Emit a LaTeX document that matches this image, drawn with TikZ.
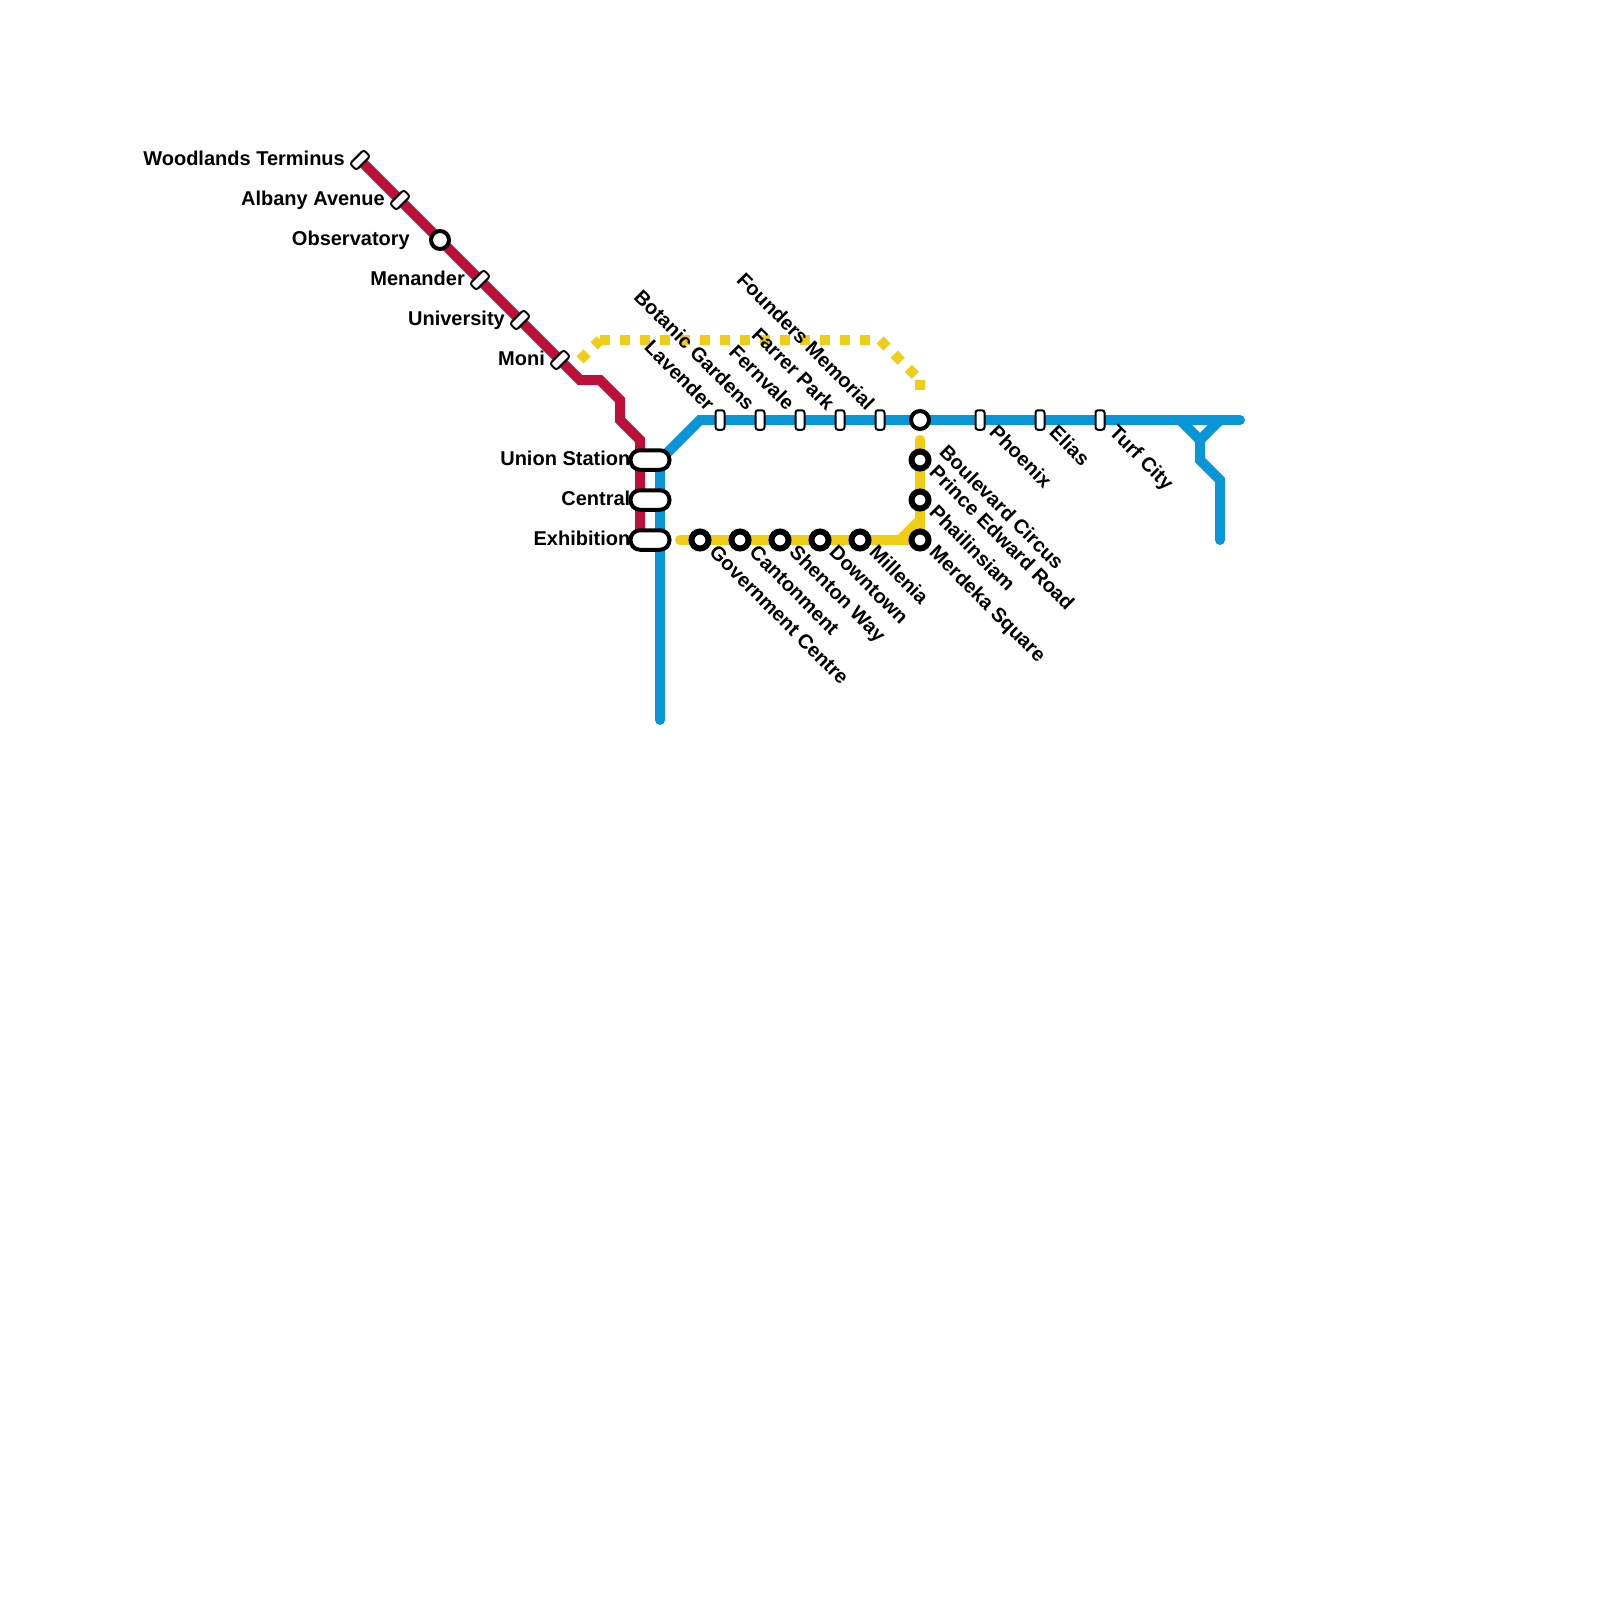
\documentclass[tikz,border=0pt]{standalone}
\usepackage{fontspec}
\usetikzlibrary{backgrounds}
\setmainfont{Liberation Sans}
\definecolor{redline}{HTML}{BD1038}
\definecolor{blueline}{HTML}{0896D7}
\definecolor{yellowline}{HTML}{F0CE15}
\begin{document}
\begin{tikzpicture}[x=20pt,y=-20pt]
    \tikzstyle{metro}=[line width=10pt,miter limit=10]
    \tikzstyle{tick}=[draw=black,fill=white,line width=2pt,rounded corners=2.5pt,minimum width=9pt,minimum height=19.5pt,inner sep=0pt]
    \tikzstyle{difftick}=[tick,rotate=-45]
    \tikzstyle{ring}=[draw=black,fill=white,circle,line width=4pt,minimum size=18pt,inner sep=0pt]
    \tikzstyle{thick ring}=[draw=black,fill=white,circle,line width=6pt,minimum size=17pt,inner sep=0pt]
    \tikzstyle{pill}=[draw=black,fill=white,line width=4pt,rounded corners=9.5pt,minimum width=39pt,minimum height=19.5pt,inner sep=0pt]
    \tikzstyle{lab}=[font=\bfseries\fontsize{20}{24}\selectfont,inner sep=0pt,text=black,text height=14.5pt,text depth=4pt]
    \tikzstyle{leftlab}=[lab,anchor=east,xshift=-15pt]
    \tikzstyle{sidelab}=[lab,anchor=east,xshift=2pt]
    \tikzstyle{uplab}=[lab,anchor=east,shift={(-10pt,12pt)},rotate=-45]
    \tikzstyle{downlab}=[lab,anchor=west,shift={(12pt,-10pt)},rotate=-45]
    \useasboundingbox (0,0) rectangle (80,80);

    \coordinate (r0) at (29,19);
    \coordinate (r1) at (30,19);
    \coordinate (r2) at (31,20);
    \coordinate (r3) at (31,21);
    \coordinate (r4) at (32,22);
    \coordinate (b0) at (33,36);
    \coordinate (b1) at (35,21);
    \coordinate (b2) at (62,21);
    \coordinate (b3) at (59,21);
    \coordinate (b4) at (60,22);
    \coordinate (b5) at (61,21);
    \coordinate (b6) at (60,23);
    \coordinate (b7) at (61,24);
    \coordinate (b8) at (61,27);
    \coordinate (y0) at (34,27);
    \coordinate (y1) at (45,27);
    \coordinate (y2) at (46,26);
    \coordinate (y3) at (46,22);
    \coordinate (d0) at (29,18);
    \coordinate (d1) at (30,17);
    \coordinate (d2) at (44,17);
    \coordinate (d3) at (46,19);
    \coordinate (d4) at (46,19.5);

    \node[difftick] (woodlands) at (18,8) {};
    \node[difftick] (albany) at (20,10) {};
    \node[ring] (observatory) at (22,12) {};
    \node[difftick] (menander) at (24,14) {};
    \node[difftick] (university) at (26,16) {};
    \node[difftick] (moni) at (28,18) {};
    \node[pill] (union) at (32.5,23) {};
    \node[pill] (central) at (32.5,25) {};
    \node[pill] (exhibition) at (32.5,27) {};
    \node[tick] (lavender) at (36,21) {};
    \node[tick] (botanic) at (38,21) {};
    \node[tick] (fernvale) at (40,21) {};
    \node[tick] (farrer) at (42,21) {};
    \node[tick] (founders) at (44,21) {};
    \node[ring] (boulevard) at (46,21) {};
    \node[tick] (phoenix) at (49,21) {};
    \node[tick] (elias) at (52,21) {};
    \node[tick] (turf) at (55,21) {};
    \node[thick ring] (prince) at (46,23) {};
    \node[thick ring] (phailinsiam) at (46,25) {};
    \node[thick ring] (merdeka) at (46,27) {};
    \node[thick ring] (government) at (35,27) {};
    \node[thick ring] (cantonment) at (37,27) {};
    \node[thick ring] (shenton) at (39,27) {};
    \node[thick ring] (downtown) at (41,27) {};
    \node[thick ring] (millenia) at (43,27) {};

    \begin{pgfonlayer}{background}
        \draw[metro,redline] (woodlands.center) -- (r0) -- (r1) -- (r2) -- (r3) -- (r4) -- (exhibition.center -| r4);
        \draw[metro,blueline,line cap=round] (b0) -- (union.center -| b0) -- (b1) -- (b2);
        \draw[metro,blueline] (b3) -- (b4) -- (b5);
        \draw[metro,blueline,line cap=round] (b4) -- (b6) -- (b7) -- (b8);
        \draw[metro,yellowline,line cap=round] (y0) -- (merdeka.center);
        \draw[metro,yellowline] (y1) -- (y2);
        \draw[metro,yellowline,line cap=round] (merdeka.center) -- (y3);
        \draw[metro,yellowline,dash pattern=on 10pt off 10pt] (d0) -- (d1);
        \draw[metro,yellowline,dash pattern=on 10pt off 10pt] (d1) -- (d2);
        \draw[metro,yellowline,dash pattern=on 10pt off 10pt] (d2) -- (d3);
        \draw[metro,yellowline,dash pattern=on 10pt off 10pt] (d3) -- (d4);
    \end{pgfonlayer}

    \node[leftlab] (woodlandslab) at (woodlands) {Woodlands Terminus};
    \node[leftlab] (albanylab) at (albany) {Albany Avenue};
    \node[leftlab,xshift=-15pt] (observatorylab) at (observatory) {Observatory};
    \node[leftlab] (menanderlab) at (menander) {Menander};
    \node[leftlab] (universitylab) at (university) {University};
    \node[leftlab] (monilab) at (moni) {Moni};
    \node[sidelab] (unionlab) at (union.west) {Union Station};
    \node[sidelab] (centrallab) at (central.west) {Central};
    \node[sidelab] (exhibitionlab) at (exhibition.west) {Exhibition};
    \node[uplab] (lavenderlab) at (lavender) {Lavender};
    \node[uplab] (botaniclab) at (botanic) {Botanic Gardens};
    \node[uplab] (fernvalelab) at (fernvale) {Fernvale};
    \node[uplab] (farrerlab) at (farrer) {Farrer Park};
    \node[uplab] (founderslab) at (founders) {Founders Memorial};
    \node[downlab,shift={(21pt,-7pt)}] (boulevardlab) at (boulevard) {Boulevard Circus};
    \node[downlab] (phoenixlab) at (phoenix) {Phoenix};
    \node[downlab] (eliaslab) at (elias) {Elias};
    \node[downlab] (turflab) at (turf) {Turf City};
    \node[downlab] (princelab) at (prince) {Prince Edward Road};
    \node[downlab] (phailinsiamlab) at (phailinsiam) {Phailinsiam};
    \node[downlab] (merdekalab) at (merdeka) {Merdeka Square};
    \node[downlab] (governmentlab) at (government) {Government Centre};
    \node[downlab] (cantonmentlab) at (cantonment) {Cantonment};
    \node[downlab] (shentonlab) at (shenton) {Shenton Way};
    \node[downlab] (downtownlab) at (downtown) {Downtown};
    \node[downlab] (millenialab) at (millenia) {Millenia};
\end{tikzpicture}
\end{document}
